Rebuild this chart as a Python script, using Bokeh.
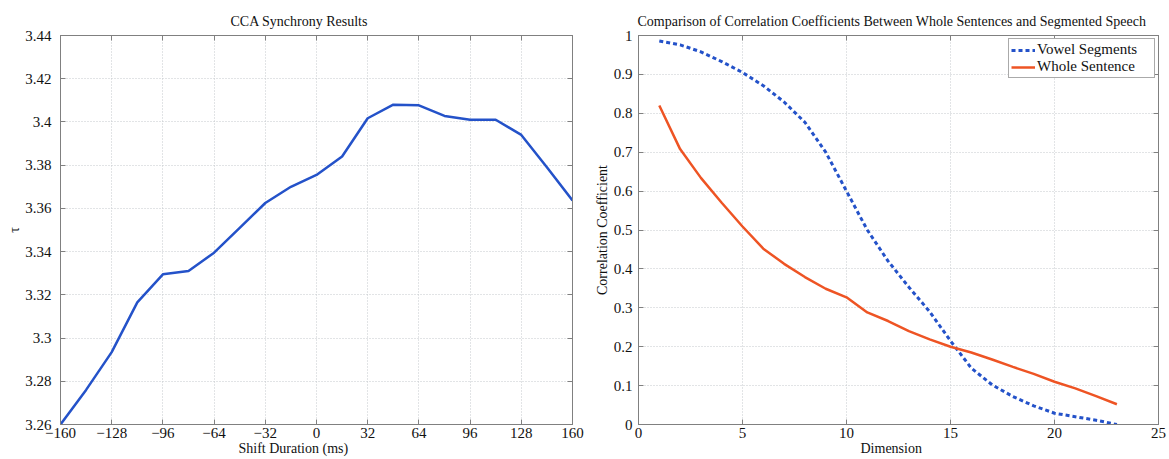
from bokeh.plotting import figure
from bokeh.models import Range1d, LinearAxis, FixedTicker, CustomJSTickFormatter, Title
from bokeh.layouts import row
from bokeh.embed import file_html
from bokeh.resources import INLINE

FONT = "Liberation Serif"

# ---------------- data: left panel ----------------
shift_ms = [-160, -144, -128, -112, -96, -80, -64, -48, -32, -16, 0,
            16, 32, 48, 64, 80, 96, 112, 128, 144, 160]
tau = [3.260, 3.276, 3.2935, 3.3165, 3.3295, 3.331, 3.3395, 3.351, 3.3625, 3.370, 3.3755,
       3.384, 3.4017, 3.408, 3.4077, 3.4028, 3.401, 3.401, 3.394, 3.379, 3.3637]
shift_ticks = [-160, -128, -96, -64, -32, 0, 32, 64, 96, 128, 160]
shift_tick_labels = ["\u2212160", "\u2212128", "\u221296", "\u221264", "\u221232", "0",
                     "32", "64", "96", "128", "160"]
tau_ticks = [3.26, 3.28, 3.30, 3.32, 3.34, 3.36, 3.38, 3.40, 3.42, 3.44]
tau_tick_labels = ["3.26", "3.28", "3.3", "3.32", "3.34", "3.36", "3.38", "3.4", "3.42", "3.44"]

# ---------------- data: right panel ----------------
dimension = list(range(1, 24))
vowel_segments = [0.986, 0.976, 0.958, 0.933, 0.905, 0.871, 0.829, 0.777, 0.700, 0.600,
                  0.500, 0.420, 0.353, 0.290, 0.215, 0.145, 0.102, 0.072, 0.048, 0.029,
                  0.020, 0.011, 0.000]
whole_sentence = [0.820, 0.708, 0.634, 0.570, 0.509, 0.452, 0.413, 0.379, 0.349, 0.327,
                  0.288, 0.266, 0.240, 0.219, 0.200, 0.185, 0.167, 0.148, 0.130, 0.110,
                  0.093, 0.073, 0.052]
dim_ticks = [0, 5, 10, 15, 20, 25]
dim_tick_labels = ["0", "5", "10", "15", "20", "25"]
coef_ticks = [0.0, 0.1, 0.2, 0.3, 0.4, 0.5, 0.6, 0.7, 0.8, 0.9, 1.0]
coef_tick_labels = ["0", "0.1", "0.2", "0.3", "0.4", "0.5", "0.6", "0.7", "0.8", "0.9", "1"]

FRAME = "#808080"
GRID = "#c4c8cc"
TXT = "#111111"
BLUE = "#2452c9"
ORANGE = "#ee5424"

blank = CustomJSTickFormatter(code="return ''")


def tick_only_axis(ticks):
    return LinearAxis(ticker=FixedTicker(ticks=ticks, minor_ticks=[]), formatter=blank,
                      axis_label=None, axis_label_standoff=0,
                      major_label_text_font_size="0px", major_label_standoff=0,
                      axis_line_color=FRAME, major_tick_line_color=FRAME,
                      major_tick_in=5, major_tick_out=0, minor_tick_line_color=None)


def style(p, xt, xl, yt, yl):
    p.outline_line_color = FRAME
    p.outline_line_width = 1
    p.background_fill_color = "white"
    p.border_fill_color = "white"
    for ax, ticks, labels in ((p.xaxis[0], xt, xl), (p.yaxis[0], yt, yl)):
        ax.ticker = FixedTicker(ticks=ticks, minor_ticks=[])
        ax.major_label_overrides = dict(zip(ticks, labels))
        ax.axis_line_color = FRAME
        ax.major_tick_line_color = FRAME
        ax.major_tick_in = 5
        ax.major_tick_out = 0
        ax.minor_tick_line_color = None
        ax.major_label_text_font = FONT
        ax.major_label_text_font_size = "15px"
        ax.major_label_text_color = TXT
        ax.axis_label_text_font = FONT
        ax.axis_label_text_font_size = "14px"
        ax.axis_label_text_font_style = "normal"
        ax.axis_label_text_color = TXT
    p.xaxis[0].axis_label = None
    p.xaxis[0].axis_label_standoff = 0
    p.xaxis[0].major_label_standoff = 3
    p.add_layout(tick_only_axis(xt), "above")
    p.add_layout(tick_only_axis(yt), "right")
    for g in (p.xgrid[0], p.ygrid[0]):
        g.grid_line_color = GRID
        g.grid_line_dash = "1 2"
        g.grid_line_width = 1
    p.title.text_font = FONT
    p.title.text_font_size = "14px"
    p.title.text_font_style = "normal"
    p.title.text_color = TXT
    p.title.align = "left"
    p.title.standoff = 13


def bottom_label(p, text, offset):
    p.add_layout(Title(text=text, align="left", offset=offset, standoff=-4,
                       text_font=FONT, text_font_size="14px", text_font_style="normal",
                       text_color=TXT), "below")


# ---------------- left figure ----------------
p1 = figure(width=585, height=459, output_backend="svg", toolbar_location=None,
            x_range=Range1d(-160, 160), y_range=Range1d(3.26, 3.44),
            title="CCA Synchrony Results",
            min_border_left=60, min_border_right=13, min_border_top=35, min_border_bottom=35)
style(p1, shift_ticks, shift_tick_labels, tau_ticks, tau_tick_labels)
p1.title.offset = 170
p1.yaxis[0].axis_label = "\u03c4"
p1.yaxis[0].major_label_standoff = 9
p1.yaxis[0].axis_label_standoff = 0
p1.line(shift_ms, tau, line_color=BLUE, line_width=2.5)
bottom_label(p1, "Shift Duration (ms)", 178)

# ---------------- right figure ----------------
p2 = figure(width=584, height=459, output_backend="svg", toolbar_location=None,
            x_range=Range1d(0, 25), y_range=Range1d(0, 1),
            title="Comparison of Correlation Coefficients Between Whole Sentences and Segmented Speech",
            min_border_left=53, min_border_right=11, min_border_top=35, min_border_bottom=35)
style(p2, dim_ticks, dim_tick_labels, coef_ticks, coef_tick_labels)
p2.title.offset = -1
p2.yaxis[0].axis_label = "Correlation Coefficient"
p2.yaxis[0].major_label_standoff = 6
p2.yaxis[0].axis_label_standoff = 1
p2.line(dimension, vowel_segments, line_color=BLUE, line_width=3, line_dash="4 3",
        legend_label="Vowel Segments")
p2.line(dimension, whole_sentence, line_color=ORANGE, line_width=2.5,
        legend_label="Whole Sentence")
bottom_label(p2, "Dimension", 222)
lg = p2.legend[0]
lg.location = "top_right"
lg.margin = 3
lg.padding = 2
lg.spacing = 0
lg.glyph_width = 24
lg.glyph_height = 16
lg.label_height = 16
lg.label_width = 115
lg.label_standoff = 2
lg.label_text_font = FONT
lg.label_text_font_size = "15px"
lg.label_text_color = TXT
lg.border_line_color = "#555555"
lg.border_line_width = 1
lg.background_fill_alpha = 1

layout = row(p1, p2, spacing=0)
open("out.html", "w").write(file_html(layout, INLINE))
